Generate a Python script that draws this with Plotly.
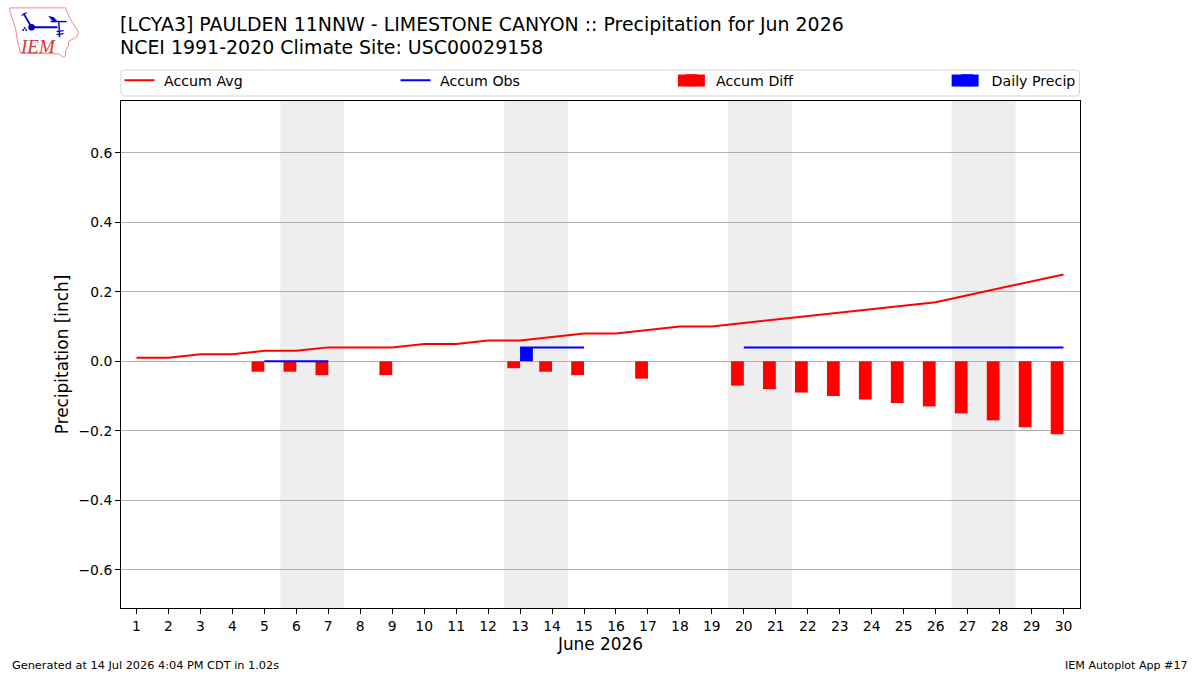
import plotly.graph_objects as go

# Daily climatology and observation series for the month
days = list(range(1, 31))
accum_avg = [0.01, 0.01, 0.02, 0.02, 0.03, 0.03, 0.04, 0.04, 0.04, 0.05,
             0.05, 0.06, 0.06, 0.07, 0.08, 0.08, 0.09, 0.10, 0.10, 0.11,
             0.12, 0.13, 0.14, 0.15, 0.16, 0.17, 0.19, 0.21, 0.23, 0.25]
accum_obs = [None, None, None, None, 0.0, 0.0, 0.0, None, None, None,
             None, None, 0.04, 0.04, 0.04, None, None, None, None, 0.04,
             0.04, 0.04, 0.04, 0.04, 0.04, 0.04, 0.04, 0.04, 0.04, 0.04]
accum_diff = [None, None, None, None, -0.03, -0.03, -0.04, None, -0.04, None,
              None, None, -0.02, -0.03, -0.04, None, -0.05, None, None, -0.07,
              -0.08, -0.09, -0.10, -0.11, -0.12, -0.13, -0.15, -0.17, -0.19, -0.21]
daily_precip = [None] * 12 + [0.04] + [None] * 17
weekends = [6, 13, 20, 27]
y_ticks = [-0.6, -0.4, -0.2, 0.0, 0.2, 0.4, 0.6]

FONT = "DejaVu Sans"
W, H = 1200, 675
ML, MR, MT, MB = 120.5, 119.5, 100.5, 67


def px(x):
    """Page pixel x to paper fraction."""
    return (x - ML) / (W - ML - MR)


def py(y):
    """Page pixel y to paper fraction."""
    return (H - MB - y) / (H - MT - MB)


def path(points, close=False):
    d = "M" + " L".join(f"{px(a):.5f},{py(b):.5f}" for a, b in points)
    return d + (" Z" if close else "")


fig = go.Figure()
fig.add_scatter(x=days, y=accum_avg, mode="lines", name="\u00a0Accum Avg",
                line=dict(color="#ff0000", width=2), legendwidth=231)
fig.add_scatter(x=days, y=accum_obs, mode="lines", name="\u00a0Accum Obs",
                line=dict(color="#0000ff", width=2), legendwidth=231)
fig.add_bar(x=days, y=accum_diff, width=0.4, offset=-0.4, name="\u00a0Accum Diff",
            marker=dict(color="#ff0000", line_width=0), legendwidth=230.6)
fig.add_bar(x=days, y=daily_precip, width=0.4, offset=0.0, name="\u00a0Daily Precip",
            marker=dict(color="#0000ff", line_width=0), legendwidth=90)

shapes = [
    dict(type="rect", xref="x", yref="paper", x0=d - 0.5, x1=d + 1.5, y0=0, y1=1,
         fillcolor="#eeeeee", line_width=0, layer="below")
    for d in weekends
]

# Rounded frame around the legend row
L, R, T, B, r = 120.5, 1080, 69.5, 95.5, 3
frame = (f"M{px(L + r):.5f},{py(T):.5f} L{px(R - r):.5f},{py(T):.5f} "
         f"Q{px(R):.5f},{py(T):.5f} {px(R):.5f},{py(T + r):.5f} "
         f"L{px(R):.5f},{py(B - r):.5f} Q{px(R):.5f},{py(B):.5f} {px(R - r):.5f},{py(B):.5f} "
         f"L{px(L + r):.5f},{py(B):.5f} Q{px(L):.5f},{py(B):.5f} {px(L):.5f},{py(B - r):.5f} "
         f"L{px(L):.5f},{py(T + r):.5f} Q{px(L):.5f},{py(T):.5f} {px(L + r):.5f},{py(T):.5f} Z")
shapes.append(dict(type="path", xref="paper", yref="paper", path=frame,
                   line=dict(color="#d5d5d5", width=1), fillcolor="#ffffff", layer="below"))

# Wider swatches behind the two bar entries of the legend
for x0, colour in [(678, "#ff0000"), (952, "#0000ff")]:
    shapes.append(dict(type="rect", xref="paper", yref="paper", x0=px(x0), x1=px(x0 + 27),
                       y0=py(86), y1=py(74), fillcolor=colour, line_width=0))

# Station logo: state outline and instrument glyph
outline = [(9.3, 7.3), (65, 7.3), (68, 15), (71.7, 21.7), (78, 31.7), (76, 36.7),
           (68, 40.7), (68, 45), (65, 50), (65, 55), (62.7, 56.7), (58, 53.3),
           (20, 52.7), (16.7, 40), (15, 28), (11.7, 18), (9.3, 11.7)]
shapes.append(dict(type="path", xref="paper", yref="paper", path=path(outline, True),
                   line=dict(color="#e88a8a", width=1)))
for seg, w in [([(23, 13), (31, 26.7), (57, 26.7)], 1.8),
               ([(50, 21), (66, 21)], 1.4),
               ([(58.3, 21), (59, 36.7)], 1.4),
               ([(21, 15), (26, 12)], 1.2), ([(56, 31), (63, 30)], 1.2), ([(56, 34), (63, 33)], 1.2)]:
    shapes.append(dict(type="path", xref="paper", yref="paper", path=path(seg),
                       line=dict(color="#0000cc", width=w)))
shapes.append(dict(type="path", xref="paper", yref="paper",
                   path=path([(47.5, 15.5), (53, 16.5), (57, 21), (52, 20.5)], True),
                   fillcolor="#0000cc", line_width=0))
for cx, cy, rad in [(31, 26.7, 3.3), (24, 27.5, 1), (22.6, 29.5, 1), (25.6, 29.5, 1)]:
    shapes.append(dict(type="circle", xref="paper", yref="paper", x0=px(cx - rad), x1=px(cx + rad),
                       y0=py(cy + rad), y1=py(cy - rad), fillcolor="#0000cc", line_width=0))

annotations = [
    dict(text="[LCYA3] PAULDEN 11NNW - LIMESTONE CANYON :: Precipitation for Jun 2026",
         x=px(118.5), y=py(23.5), xanchor="left", yanchor="middle", showarrow=False,
         font=dict(size=18.95, color="black")),
    dict(text="NCEI 1991-2020 Climate Site: USC00029158",
         x=px(118.5), y=py(46.5), xanchor="left", yanchor="middle", showarrow=False,
         font=dict(size=18.95, color="black")),
    dict(text="Generated at 14 Jul 2026 4:04 PM CDT in 1.02s",
         x=px(10.5), y=py(666), xanchor="left", yanchor="middle", showarrow=False,
         font=dict(size=11.3, color="black")),
    dict(text="IEM Autoplot App #17",
         x=px(1189.5), y=py(666), xanchor="right", yanchor="middle", showarrow=False,
         font=dict(size=11.1, color="black")),
    dict(text="<i>IEM</i>", x=px(37), y=py(45.5), xanchor="center", yanchor="middle",
         showarrow=False, font=dict(size=19, color="#d8353b", family="Liberation Serif")),
]
for a in annotations:
    a.update(xref="paper", yref="paper", borderpad=0, xshift=0)

fig.update_layout(
    width=W, height=H, autosize=False,
    margin=dict(l=ML, r=MR, t=MT, b=MB, pad=0),
    paper_bgcolor="white", plot_bgcolor="white",
    font=dict(family=FONT, color="#000000", size=13.9),
    barmode="overlay", shapes=shapes, annotations=annotations,
    legend=dict(orientation="h", x=px(119), y=py(96), xanchor="left", yanchor="bottom",
                font=dict(size=14.2), bgcolor="rgba(0,0,0,0)", borderwidth=0,
                itemwidth=30, traceorder="normal"),
    xaxis=dict(range=[0.516, 30.516], tickvals=days, ticks="outside", ticklen=5, tickwidth=1,
               tickcolor="black", showgrid=False, zeroline=False, showline=True,
               linecolor="black", linewidth=1, mirror=True,
               title=dict(text="June 2026", font=dict(size=16.9), standoff=4)),
    yaxis=dict(range=[-0.71, 0.749], tickvals=y_ticks, tickformat=".1f", ticks="outside",
               ticklen=5, tickwidth=1, tickcolor="black", showgrid=True,
               gridcolor="#b0b0b0", gridwidth=1, zeroline=False, showline=True,
               linecolor="black", linewidth=1, mirror=True,
               title=dict(text="Precipitation [inch]", font=dict(size=16.9), standoff=5)),
)

fig.write_html("out.html")
